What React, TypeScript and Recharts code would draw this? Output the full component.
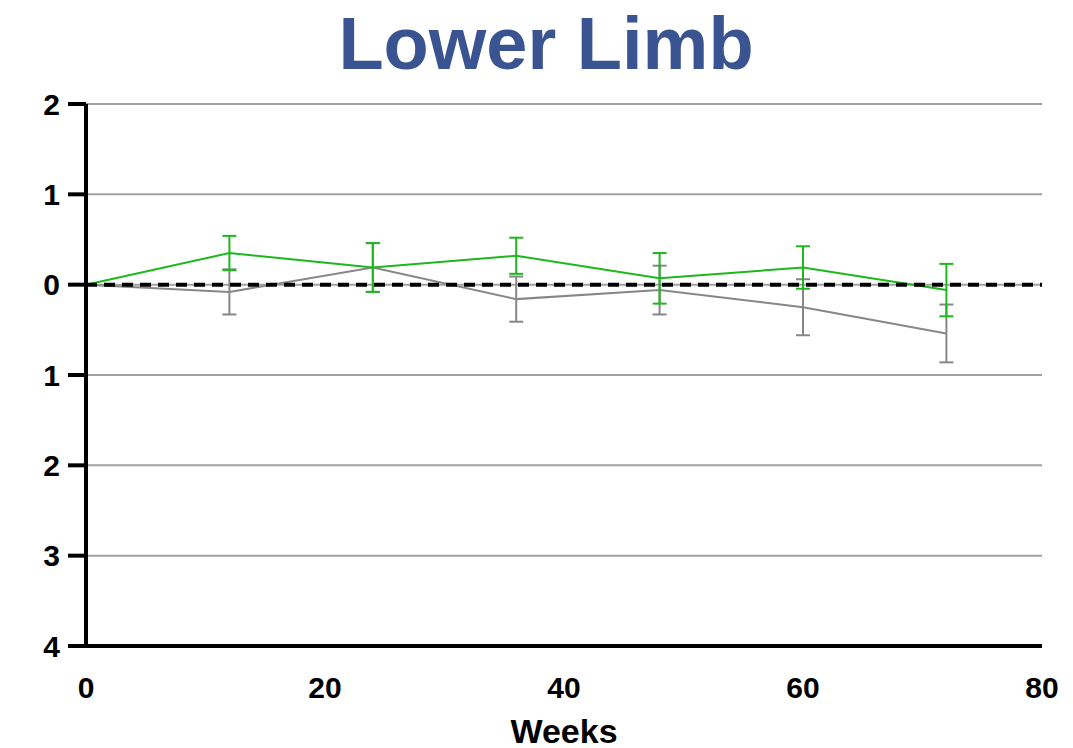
import React from 'react'
import { LineChart, Line, XAxis, YAxis, CartesianGrid, ErrorBar, ReferenceLine } from 'recharts'

const weeks = [0, 12, 24, 36, 48, 60, 72]
const greenMean = [0, 0.35, 0.19, 0.32, 0.07, 0.19, -0.06]
const greenErr = [0, 0.19, 0.27, 0.2, 0.28, 0.235, 0.29]
const grayMean = [0, -0.08, 0.19, -0.16, -0.06, -0.25, -0.54]
const grayErr = [0, 0.25, 0.27, 0.25, 0.27, 0.31, 0.32]

const xTicks = [0, 20, 40, 60, 80]
const yTicks = [-4, -3, -2, -1, 0, 1, 2]

const data = weeks.map((w, i) => ({
  week: w,
  green: greenMean[i],
  greenErr: greenErr[i],
  gray: grayMean[i],
  grayErr: grayErr[i],
}))

const GREEN = '#1cb81c'
const GRAY = '#878787'
const FONT = '"Liberation Sans", Arial, sans-serif'

export default function App() {
  return (
    <div style={{ position: 'absolute', left: 0, top: 0, width: 1073, height: 748, background: '#fff', fontFamily: FONT }}>
      <div
        style={{
          position: 'absolute',
          left: 0,
          top: 0,
          width: 1092,
          textAlign: 'center',
          fontSize: 74,
          fontWeight: 'bold',
          color: '#3a5491',
          lineHeight: '88px',
        }}
      >
        Lower Limb
      </div>
      <LineChart
        width={1073}
        height={748}
        data={data}
        margin={{ top: 104, right: 31, bottom: 0, left: 0 }}
      >
        <CartesianGrid horizontal vertical={false} stroke="#a0a0a0" strokeWidth={2} />
        <XAxis
          dataKey="week"
          type="number"
          domain={[0, 80]}
          ticks={xTicks}
          tickLine={false}
          tickSize={0}
          tickMargin={31}
          height={102}
          axisLine={{ stroke: '#000', strokeWidth: 4 }}
          tick={{ fontSize: 30, fontWeight: 'bold', fill: '#000', fontFamily: FONT }}
        />
        <YAxis
          type="number"
          domain={[-4, 2]}
          ticks={yTicks}
          width={86}
          tickSize={18}
          tickMargin={8}
          tickLine={{ stroke: '#000', strokeWidth: 4 }}
          axisLine={{ stroke: '#000', strokeWidth: 4 }}
          tickFormatter={(v: number) => String(Math.abs(v))}
          tick={{ fontSize: 30, fontWeight: 'bold', fill: '#000', fontFamily: FONT }}
        />
        <Line
          dataKey="gray"
          stroke={GRAY}
          strokeWidth={2}
          dot={false}
          isAnimationActive={false}
        >
          <ErrorBar dataKey="grayErr" width={7} stroke={GRAY} strokeWidth={2} direction="y" />
        </Line>
        <Line
          dataKey="green"
          stroke={GREEN}
          strokeWidth={2}
          dot={false}
          isAnimationActive={false}
        >
          <ErrorBar dataKey="greenErr" width={7} stroke={GREEN} strokeWidth={2} direction="y" />
        </Line>
        <ReferenceLine y={0} stroke="#000" strokeWidth={4} strokeDasharray="11 7" />
      </LineChart>
      <div
        style={{
          position: 'absolute',
          left: 464,
          top: 714,
          width: 200,
          textAlign: 'center',
          fontSize: 34,
          fontWeight: 'bold',
          color: '#000',
          lineHeight: '34px',
        }}
      >
        Weeks
      </div>
    </div>
  )
}
